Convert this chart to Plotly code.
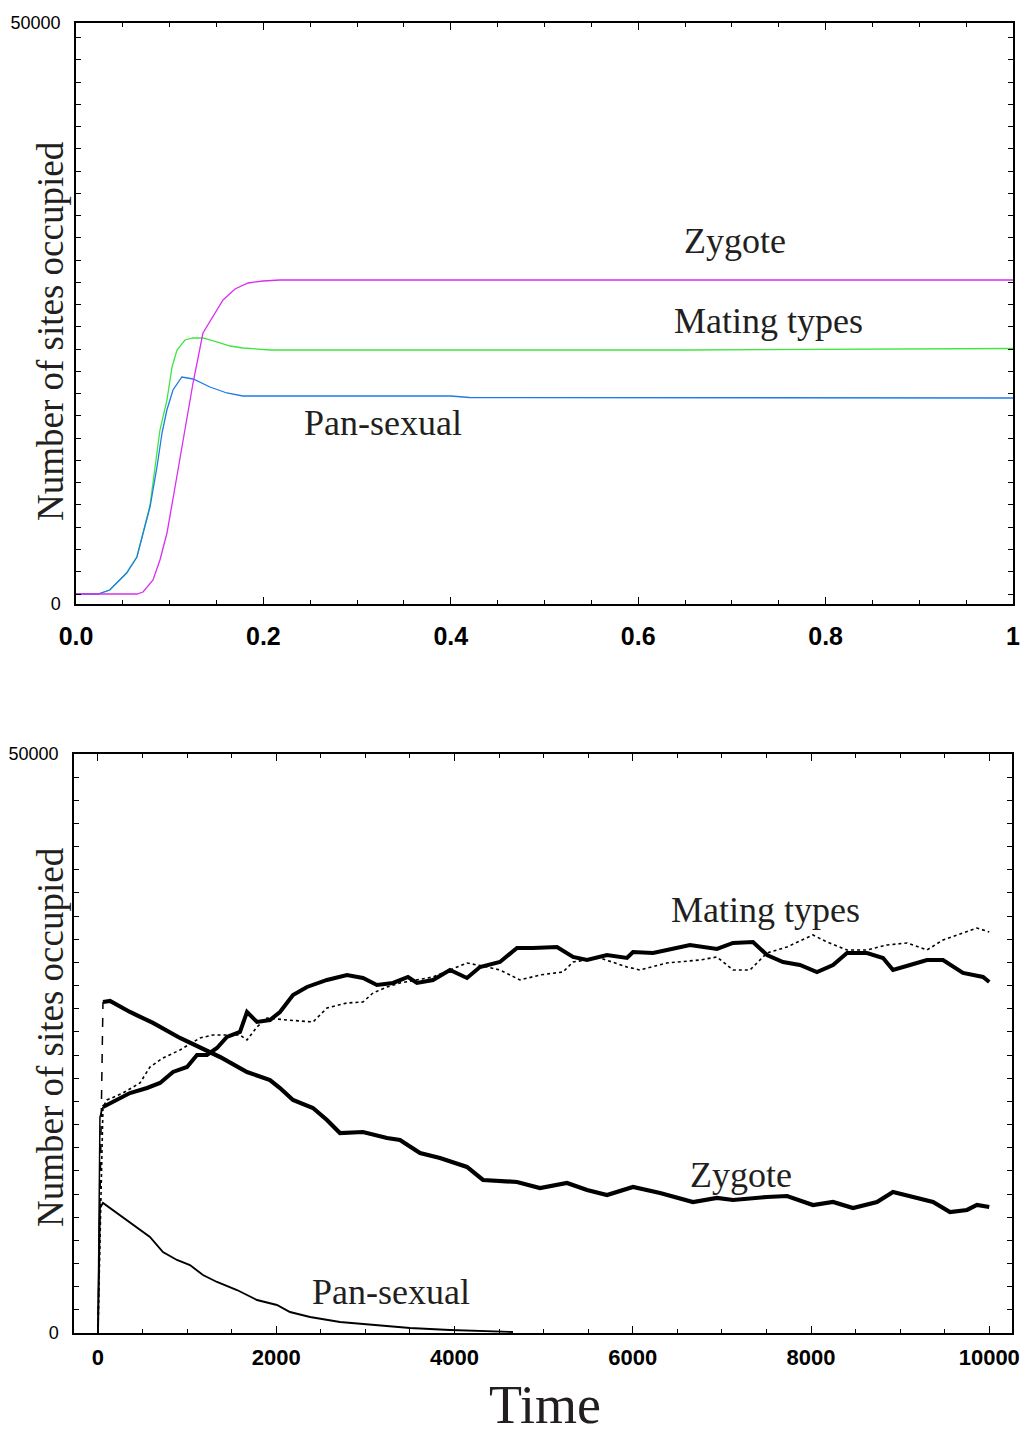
import plotly.graph_objects as go

# page has an 8px body margin; figure is sized so that it ends at the window edges
OFF = 8
W, H = 1031 - OFF, 1437 - OFF

# ---------------- top panel data (early dynamics, time 0..1) ----------------
top_t_pan = [0, 0.0235, 0.036, 0.054, 0.065, 0.0715, 0.079, 0.0864, 0.0918, 0.097, 0.1035,
             0.113, 0.125, 0.143, 0.161, 0.178, 0.40, 0.42, 1.0]
top_pan = [861, 861, 1205, 2668, 4045, 6110, 8348, 11790, 14716, 16695, 18417,
           19536, 19364, 18675, 18159, 17900, 17900, 17771, 17728]

top_t_mat = [0, 0.0235, 0.036, 0.054, 0.065, 0.0715, 0.079, 0.0896, 0.0971, 0.1025, 0.1078,
             0.1163, 0.1249, 0.1355, 0.1398, 0.1537, 0.1644, 0.1782, 0.207, 0.65, 1.0]
top_mat = [861, 861, 1205, 2668, 4045, 6200, 8500, 14974, 17556, 20396, 21859,
           22720, 22892, 22892, 22806, 22462, 22203, 22031, 21859, 21859, 21988]

top_t_zyg = [0, 0.065, 0.0715, 0.0822, 0.0896, 0.0971, 0.1057, 0.1142, 0.1249, 0.1355,
             0.1569, 0.1697, 0.1836, 0.1996, 0.2177, 1.0]
top_zyg = [861, 861, 1033, 2065, 3786, 6110, 10069, 14114, 19019, 23322,
           26162, 27109, 27625, 27797, 27883, 27883]

top_xtick_vals = [0, 0.2, 0.4, 0.6, 0.8, 1.0]
top_xtick_text = ["0.0", "0.2", "0.4", "0.6", "0.8", "1"]

# ---------------- bottom panel data (time 0..10000) ----------------
bot_t_zyg = [0, 56, 135, 359, 617, 920, 1144, 1369, 1672, 1930, 2042, 2188, 2412, 2569, 2715,
             2973, 3243, 3388, 3613, 3837, 4140, 4320, 4701, 4959, 5262, 5487, 5711, 6003,
             6306, 6676, 6945, 7125, 7506, 7731, 8022, 8247, 8471, 8740, 8920, 9189, 9369,
             9559, 9750, 9862, 10000]
bot_zyg = [0, 28585, 28672, 27722, 26772, 25476, 24613, 23835, 22540, 21849, 21158, 20122,
           19431, 18395, 17272, 17358, 16840, 16667, 15545, 15113, 14336, 13213, 13040, 12522,
           12954, 12349, 11918, 12609, 12090, 11313, 11659, 11486, 11745, 11831, 11054, 11313,
           10795, 11313, 12177, 11659, 11313, 10450, 10622, 11054, 10881]

bot_t_mat1 = [0, 22, 56, 168, 359, 550, 696, 842, 999, 1111, 1223, 1335, 1447, 1593, 1672,
              1784, 1930, 2042, 2188, 2345, 2569, 2794, 2973, 3130, 3310, 3478, 3579, 3759,
              3949, 4140, 4286, 4510, 4701, 4881, 5150, 5330, 5487, 5711, 5935, 6003, 6227,
              6384, 6642, 6945, 7125, 7349, 7506, 7686, 7876, 8067, 8247, 8404, 8628, 8808,
              8920, 9111, 9301, 9481, 9705, 9930, 10000]
bot_mat1 = [0, 18654, 19517, 19949, 20726, 21158, 21590, 22540, 22972, 24008, 24008, 24613,
            25563, 25994, 27722, 26858, 27031, 27722, 29190, 29881, 30485, 30917, 30658,
            30053, 30226, 30744, 30226, 30485, 31349, 30658, 31608, 32040, 33249, 33249,
            33335, 32471, 32212, 32644, 32385, 32903, 32817, 33076, 33508, 33163, 33680,
            33767, 32644, 32040, 31780, 31176, 31780, 32817, 32817, 32385, 31349, 31780,
            32212, 32212, 31090, 30744, 30312]

bot_t_mat2 = [0, 56, 101, 281, 471, 583, 729, 920, 1144, 1290, 1593, 1672, 1784, 1896, 2121,
              2412, 2569, 2794, 2973, 3086, 3243, 3388, 3759, 4140, 4365, 4510, 4735, 4959,
              5217, 5330, 5633, 5935, 6081, 6384, 6754, 6945, 7125, 7315, 7506, 7731, 8022,
              8179, 8404, 8628, 8853, 9077, 9301, 9481, 9705, 9862, 10000]
bot_mat2 = [0, 19517, 20122, 20726, 21590, 22972, 23749, 24440, 25476, 25735, 25735, 25303,
            26426, 27203, 27031, 26858, 28067, 28499, 28585, 29362, 29881, 30226, 30744,
            31953, 31608, 31349, 30485, 30917, 31176, 32040, 32385, 31608, 31349, 31953,
            32212, 32471, 31349, 31349, 32817, 33335, 34371, 33767, 33076, 33076, 33508,
            33680, 33076, 33939, 34544, 34976, 34630]

bot_t_pan = [0, 22, 56, 213, 359, 583, 729, 886, 1032, 1178, 1335, 1560, 1784, 2008, 2154,
             2379, 2715, 3086, 3501, 3949, 4656]
bot_pan = [0, 10800, 11227, 10363, 9586, 8291, 6995, 6304, 5872, 5009, 4404, 3713, 2850,
           2418, 1814, 1382, 950, 691, 432, 259, 86]

bot_xtick_vals = [0, 2000, 4000, 6000, 8000, 10000]
bot_xtick_text = ["0", "2000", "4000", "6000", "8000", "10000"]

# ---------------- layout helpers (page pixels -> paper fraction) ----------------
def px_x(p):
    return (p - OFF) / W

def px_y(p):
    return 1 - (p - OFF) / H

SERIF = "Liberation Serif, Times New Roman, serif"
SANS = "Liberation Sans, Arial, sans-serif"
TXT = "#231f20"

fig = go.Figure()

# top panel traces
fig.add_trace(go.Scatter(x=top_t_mat, y=top_mat, mode="lines", xaxis="x", yaxis="y",
                         line=dict(color="#3ee63e", width=1.3), showlegend=False))
fig.add_trace(go.Scatter(x=top_t_pan, y=top_pan, mode="lines", xaxis="x", yaxis="y",
                         line=dict(color="#1f7be8", width=1.3), showlegend=False))
fig.add_trace(go.Scatter(x=top_t_zyg, y=top_zyg, mode="lines", xaxis="x", yaxis="y",
                         line=dict(color="#d92ef2", width=1.3), showlegend=False))

# bottom panel traces
fig.add_trace(go.Scatter(x=bot_t_pan, y=bot_pan, mode="lines", xaxis="x2", yaxis="y2",
                         line=dict(color="black", width=1.9), showlegend=False))
fig.add_trace(go.Scatter(x=bot_t_mat2, y=bot_mat2, mode="lines", xaxis="x2", yaxis="y2",
                         line=dict(color="black", width=1.6, dash="dot"), showlegend=False))
fig.add_trace(go.Scatter(x=bot_t_mat1[:3], y=bot_mat1[:3], mode="lines", xaxis="x2", yaxis="y2",
                         line=dict(color="black", width=1.5), showlegend=False))
fig.add_trace(go.Scatter(x=bot_t_mat1[2:], y=bot_mat1[2:], mode="lines", xaxis="x2", yaxis="y2",
                         line=dict(color="black", width=4), showlegend=False))
fig.add_trace(go.Scatter(x=bot_t_zyg[:2], y=bot_zyg[:2], mode="lines", xaxis="x2", yaxis="y2",
                         line=dict(color="black", width=1.5, dash="dash"), showlegend=False))
fig.add_trace(go.Scatter(x=bot_t_zyg[1:], y=bot_zyg[1:], mode="lines", xaxis="x2", yaxis="y2",
                         line=dict(color="black", width=4.2), showlegend=False))

axis_common = dict(showline=True, linecolor="black", linewidth=1.5, mirror="ticks",
                   ticks="inside", tickcolor="black", tickwidth=1.2, showgrid=False,
                   zeroline=False, automargin=False)

fig.update_layout(
    width=W, height=H,
    margin=dict(l=0, r=0, t=0, b=0),
    paper_bgcolor="white", plot_bgcolor="white",
    xaxis=dict(axis_common, domain=[px_x(76), px_x(1013)], anchor="y", range=[0, 1],
               tickvals=top_xtick_vals, ticktext=top_xtick_text, ticklen=7,
               tickfont=dict(family=SANS, size=25, color="black", weight="bold"),
               ticklabelstandoff=9,
               minor=dict(ticks="inside", ticklen=4, dtick=0.05, tick0=0,
                          tickcolor="black", tickwidth=1.2, showgrid=False)),
    yaxis=dict(axis_common, domain=[px_y(604), px_y(23)], anchor="x", range=[0, 50000],
               tickvals=[0, 50000], ticktext=["0", "50000"], ticklen=5,
               tickfont=dict(family=SANS, size=18, color="black"),
               ticklabelstandoff=10,
               minor=dict(ticks="inside", ticklen=5, dtick=1915, tick0=861,
                          tickcolor="black", tickwidth=1.2, showgrid=False)),
    xaxis2=dict(axis_common, domain=[px_x(74), px_x(1012)], anchor="y2", range=[-269, 10255],
                tickvals=bot_xtick_vals, ticktext=bot_xtick_text, ticklen=7,
                tickfont=dict(family=SANS, size=22, color="black", weight="bold"),
                ticklabelstandoff=4,
                minor=dict(ticks="inside", ticklen=4, dtick=500, tick0=0,
                           tickcolor="black", tickwidth=1.2, showgrid=False)),
    yaxis2=dict(axis_common, domain=[px_y(1333), px_y(754)], anchor="x2", range=[0, 50000],
                tickvals=[0, 50000], ticktext=["0", "50000"], ticklen=5,
                tickfont=dict(family=SANS, size=18, color="black"),
                ticklabelstandoff=10,
                minor=dict(ticks="inside", ticklen=5, dtick=2000, tick0=0,
                           tickcolor="black", tickwidth=1.2, showgrid=False)),
)

def label(text, x, y, size=36, angle=0, yanchor="middle"):
    fig.add_annotation(text=text, x=px_x(x), y=px_y(y), xref="paper", yref="paper",
                       showarrow=False, textangle=angle, xanchor="center", yanchor=yanchor,
                       font=dict(family=SERIF, size=size, color=TXT))

# axis titles
label("Number of sites occupied", 50, 331, size=37, angle=-90)
label("Number of sites occupied", 50, 1037, size=37, angle=-90)
label("Time", 545, 1437, size=54, yanchor="bottom")

# series labels
label("Zygote", 735, 241)
label("Mating types", 768, 321)
label("Pan-sexual", 383, 423)
label("Mating types", 765, 910)
label("Zygote", 741, 1175)
label("Pan-sexual", 391, 1292)

fig.write_html("out.html")
